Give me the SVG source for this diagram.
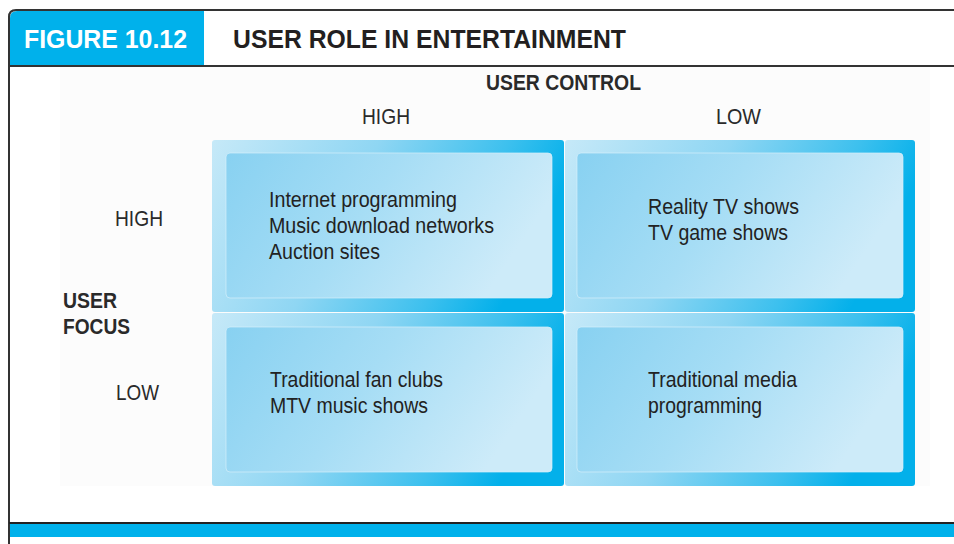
<svg xmlns="http://www.w3.org/2000/svg" width="954" height="544" viewBox="0 0 954 544">
  <defs>
    <linearGradient id="outerGrad" x1="0" y1="0" x2="1" y2="0.25">
      <stop offset="0" stop-color="#c6e9f8"/>
      <stop offset="0.45" stop-color="#8fd6f3"/>
      <stop offset="0.8" stop-color="#3cc0ee"/>
      <stop offset="1" stop-color="#03b0ea"/>
    </linearGradient>
    <linearGradient id="innerGrad" x1="0" y1="0" x2="1" y2="0.3">
      <stop offset="0" stop-color="#88d1f1"/>
      <stop offset="0.5" stop-color="#a6ddf5"/>
      <stop offset="1" stop-color="#cdebf9"/>
    </linearGradient>
    <style>
      .frame { fill: none; stroke: #333333; stroke-width: 2; }
      .blue { fill: #00b1eb; }
      .head { font-family: "Liberation Sans", Arial, sans-serif; font-weight: bold; font-size: 26px; }
      .lbl { font-family: "Liberation Sans", Arial, sans-serif; font-size: 22px; fill: #2a2a2a; }
      .lblb { font-family: "Liberation Sans", Arial, sans-serif; font-size: 22px; font-weight: bold; fill: #2a2a2a; }
      .cell { font-family: "Liberation Sans", Arial, sans-serif; font-size: 22.5px; fill: #222222; }
      .outer { fill: url(#outerGrad); }
      .inner { fill: url(#innerGrad); stroke: #d6f0fb; stroke-width: 1; stroke-opacity: 0.7; }
    </style>
  </defs>

  <rect x="0" y="0" width="954" height="544" fill="#ffffff"/>

  <!-- content background -->
  <rect x="60" y="67" width="870" height="419" fill="#fcfcfc"/>

  <!-- header -->
  <g id="header">
    <path class="blue" d="M10,66 V18 Q10,11 17,11 H204 V66 Z"/>
    <path class="frame" d="M9,544 V17 Q9,10 16,10 H954"/>
    <line class="frame" x1="9" y1="66" x2="954" y2="66"/>
    <text class="head" x="24" y="48" fill="#ffffff" textLength="163" lengthAdjust="spacingAndGlyphs">FIGURE 10.12</text>
    <text class="head" x="233" y="48" fill="#231f20" textLength="393" lengthAdjust="spacingAndGlyphs">USER ROLE IN ENTERTAINMENT</text>
  </g>

  <!-- footer -->
  <g id="footer">
    <line x1="9" y1="523" x2="954" y2="523" stroke="#222222" stroke-width="2"/>
    <rect class="blue" x="10" y="524" width="944" height="13"/>
  </g>

  <!-- axis labels -->
  <g id="axis-labels">
    <text class="lblb" x="486" y="90" textLength="155" lengthAdjust="spacingAndGlyphs">USER CONTROL</text>
    <text class="lbl" x="362" y="124" textLength="48" lengthAdjust="spacingAndGlyphs">HIGH</text>
    <text class="lbl" x="716" y="124" textLength="45" lengthAdjust="spacingAndGlyphs">LOW</text>
    <text class="lbl" x="115" y="226" textLength="48" lengthAdjust="spacingAndGlyphs">HIGH</text>
    <text class="lblb" x="63" y="308" textLength="54" lengthAdjust="spacingAndGlyphs">USER</text>
    <text class="lblb" x="63" y="334" textLength="67" lengthAdjust="spacingAndGlyphs">FOCUS</text>
    <text class="lbl" x="116" y="400" textLength="43" lengthAdjust="spacingAndGlyphs">LOW</text>
  </g>

  <!-- quadrants -->
  <g id="cell-high-high">
    <rect class="outer" x="212" y="140" width="352" height="172" rx="3"/>
    <rect class="inner" x="226" y="153" width="326" height="145" rx="4"/>
    <text class="cell" x="269" y="207" textLength="188" lengthAdjust="spacingAndGlyphs">Internet programming</text>
    <text class="cell" x="269" y="233" textLength="225" lengthAdjust="spacingAndGlyphs">Music download networks</text>
    <text class="cell" x="269" y="259" textLength="111" lengthAdjust="spacingAndGlyphs">Auction sites</text>
  </g>

  <g id="cell-high-low">
    <rect class="outer" x="565" y="140" width="350" height="172" rx="3"/>
    <rect class="inner" x="577" y="153" width="326" height="145" rx="4"/>
    <text class="cell" x="648" y="214" textLength="151" lengthAdjust="spacingAndGlyphs">Reality TV shows</text>
    <text class="cell" x="648" y="240" textLength="140" lengthAdjust="spacingAndGlyphs">TV game shows</text>
  </g>

  <g id="cell-low-high">
    <rect class="outer" x="212" y="313" width="352" height="173" rx="3"/>
    <rect class="inner" x="226" y="327" width="326" height="145" rx="4"/>
    <text class="cell" x="270" y="387" textLength="173" lengthAdjust="spacingAndGlyphs">Traditional fan clubs</text>
    <text class="cell" x="270" y="413" textLength="158" lengthAdjust="spacingAndGlyphs">MTV music shows</text>
  </g>

  <g id="cell-low-low">
    <rect class="outer" x="565" y="313" width="350" height="173" rx="3"/>
    <rect class="inner" x="577" y="327" width="326" height="145" rx="4"/>
    <text class="cell" x="648" y="387" textLength="149" lengthAdjust="spacingAndGlyphs">Traditional media</text>
    <text class="cell" x="648" y="413" textLength="114" lengthAdjust="spacingAndGlyphs">programming</text>
  </g>

  <g id="connectors"/>
</svg>
